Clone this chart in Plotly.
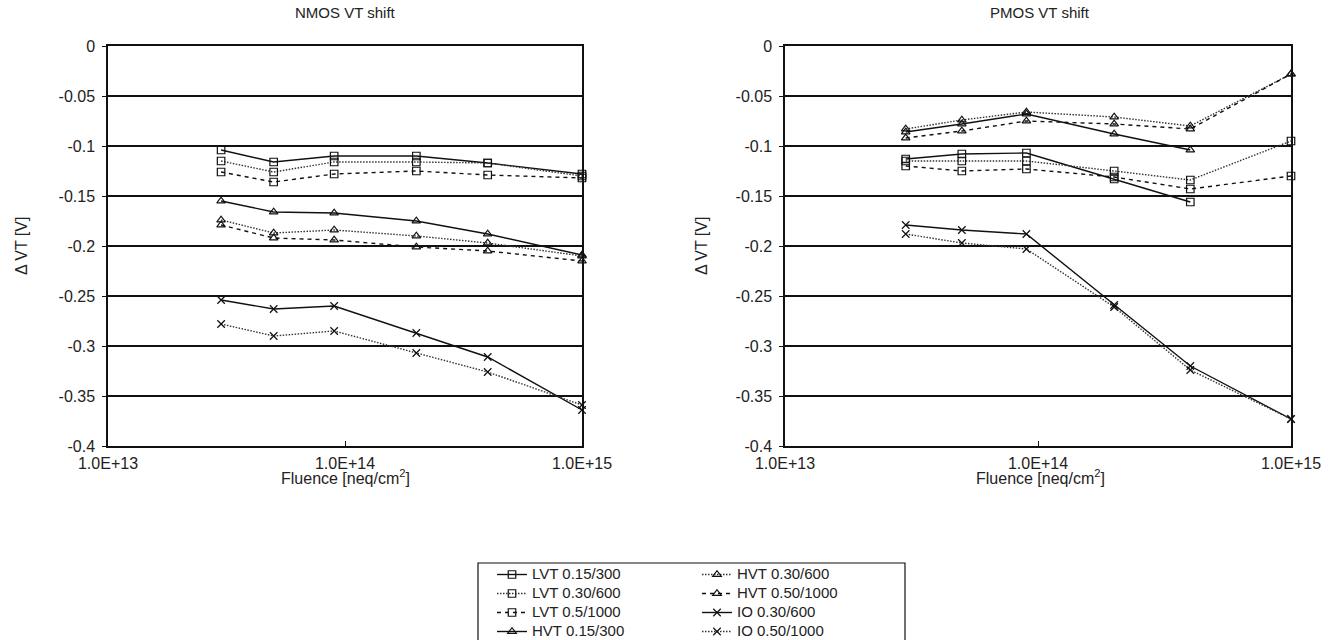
import plotly.graph_objects as go

# ---------------- data ----------------
fluence = [3e13, 5e13, 9e13, 2e14, 4e14, 1e15]

series_names = ["LVT 0.15/300", "LVT 0.30/600", "LVT 0.5/1000", "HVT 0.15/300",
                "HVT 0.30/600", "HVT 0.50/1000", "IO 0.30/600", "IO 0.50/1000"]

nmos_lvt_015_300 = [-0.104, -0.116, -0.110, -0.110, -0.117, -0.128]
nmos_lvt_030_600 = [-0.115, -0.126, -0.116, -0.116, -0.117, -0.130]
nmos_lvt_05_1000 = [-0.126, -0.136, -0.128, -0.125, -0.129, -0.132]
nmos_hvt_015_300 = [-0.155, -0.166, -0.167, -0.175, -0.188, -0.209]
nmos_hvt_030_600 = [-0.174, -0.187, -0.184, -0.190, -0.197, -0.210]
nmos_hvt_050_1000 = [-0.179, -0.192, -0.194, -0.201, -0.205, -0.215]
nmos_io_030_600 = [-0.254, -0.263, -0.260, -0.287, -0.311, -0.364]
nmos_io_050_1000 = [-0.278, -0.290, -0.285, -0.307, -0.326, -0.359]

pmos_lvt_015_300 = [-0.113, -0.108, -0.107, -0.133, -0.156, None]
pmos_lvt_030_600 = [-0.115, -0.115, -0.115, -0.125, -0.134, -0.095]
pmos_lvt_05_1000 = [-0.120, -0.125, -0.123, -0.131, -0.143, -0.130]
pmos_hvt_015_300 = [-0.086, -0.078, -0.068, -0.088, -0.104, None]
pmos_hvt_030_600 = [-0.083, -0.074, -0.066, -0.071, -0.080, -0.028]
pmos_hvt_050_1000 = [-0.092, -0.085, -0.075, -0.078, -0.083, -0.028]
pmos_io_030_600 = [-0.179, -0.184, -0.188, -0.259, -0.320, -0.373]
pmos_io_050_1000 = [-0.188, -0.197, -0.203, -0.261, -0.324, -0.373]

nmos_series = [nmos_lvt_015_300, nmos_lvt_030_600, nmos_lvt_05_1000, nmos_hvt_015_300,
               nmos_hvt_030_600, nmos_hvt_050_1000, nmos_io_030_600, nmos_io_050_1000]
pmos_series = [pmos_lvt_015_300, pmos_lvt_030_600, pmos_lvt_05_1000, pmos_hvt_015_300,
               pmos_hvt_030_600, pmos_hvt_050_1000, pmos_io_030_600, pmos_io_050_1000]

x_tick_vals = [1e13, 1e14, 1e15]
x_tick_text = ["1.0E+13", "1.0E+14", "1.0E+15"]
y_tick_vals = [0, -0.05, -0.1, -0.15, -0.2, -0.25, -0.3, -0.35, -0.4]
y_tick_text = ["0", "-0.05", "-0.1", "-0.15", "-0.2", "-0.25", "-0.3", "-0.35", "-0.4"]

panel_titles = ["NMOS VT shift", "PMOS VT shift"]
x_title = "Fluence [neq/cm<sup>2</sup>]"
y_title = "\u0394 VT [V]"

# ---------------- styles ----------------
SOLID = "solid"
DOT = "1.5px,1.5px"
DASH = "4px,4px"
dashes = [SOLID, DOT, DASH, SOLID, DOT, DASH, SOLID, DOT]
symbols = ["square-open"] * 3 + ["triangle-up-open"] * 3 + ["x-thin-open"] * 2
line_colors = ["#111", "#333", "#111", "#111", "#333", "#111", "#111", "#333"]

W, H = 1343, 640
def fx(p):
    return p / W
def fy(p):
    return 1 - p / H

FONT = "Liberation Sans, Arial, sans-serif"
TXT = "#222"
LEGEND_TEXT_SIZE = 15

fig = go.Figure()

for panel, (series_list, xa, ya) in enumerate([(nmos_series, "x", "y"), (pmos_series, "x2", "y2")]):
    for i, vals in enumerate(series_list):
        fig.add_trace(go.Scatter(
            x=fluence, y=vals, xaxis=xa, yaxis=ya,
            mode="lines+markers",
            name=f"<span style='font-size:{LEGEND_TEXT_SIZE}px'>{series_names[i]}</span>",
            hovertemplate=f"{series_names[i]}<br>%{{x:.1e}}, %{{y}}<extra></extra>",
            line=dict(color=line_colors[i], width=1.4, dash=dashes[i]),
            marker=dict(symbol=symbols[i], size=7.5, color="#111",
                        line=dict(color="#111", width=1.2)),
            cliponaxis=False,
            showlegend=(panel == 0),
            legend="legend" if i < 4 else "legend2",
        ))

axis_common = dict(
    showline=True, linecolor="#111", linewidth=1.5, mirror=True,
    zeroline=False,
)
xaxis_common = dict(
    axis_common, type="log", range=[13, 15], tickvals=x_tick_vals, ticktext=x_tick_text,
    showgrid=False, ticks="inside", ticklen=5, tickcolor="#111",
    ticklabelstandoff=2,
    tickfont=dict(family=FONT, size=16, color=TXT),
)
yaxis_common = dict(
    axis_common, range=[-0.4, 0], tickvals=y_tick_vals, ticktext=y_tick_text,
    showgrid=True, gridcolor="#111", gridwidth=1.6,
    ticks="outside", ticklen=4, tickcolor="#111",
    ticklabelstandoff=4,
    tickfont=dict(family=FONT, size=16, color=TXT),
)

legend_common = dict(xanchor="left", yanchor="top", bgcolor="rgba(0,0,0,0)",
                     borderwidth=0, tracegroupgap=0,
                     font=dict(family=FONT, size=12, color=TXT))

fig.update_layout(
    width=W, height=H,
    margin=dict(l=0, r=0, t=0, b=0, autoexpand=False),
    paper_bgcolor="white", plot_bgcolor="white",
    font=dict(family=FONT, size=15, color=TXT),
    xaxis=dict(xaxis_common, domain=[fx(108), fx(582)], anchor="y"),
    yaxis=dict(yaxis_common, domain=[fy(446), fy(46)], anchor="x"),
    xaxis2=dict(xaxis_common, domain=[fx(785), fx(1291)], anchor="y2"),
    yaxis2=dict(yaxis_common, domain=[fy(446), fy(46)], anchor="x2"),
    legend=dict(legend_common, x=fx(492), y=fy(560)),
    legend2=dict(legend_common, x=fx(697), y=fy(560)),
    shapes=[dict(type="rect", xref="paper", yref="paper",
                 x0=fx(478), x1=fx(905), y0=fy(660), y1=fy(563),
                 line=dict(color="#111", width=1.2))],
)

annotations = []
for cx, t in zip([345, 1040], panel_titles):
    annotations.append(dict(text=t, x=fx(cx), y=fy(12), xref="paper", yref="paper",
                            showarrow=False, xanchor="center", yanchor="middle",
                            font=dict(family=FONT, size=15, color=TXT)))
    annotations.append(dict(text=x_title, x=fx(cx), y=fy(477), xref="paper", yref="paper",
                            showarrow=False, xanchor="center", yanchor="middle",
                            font=dict(family=FONT, size=16, color=TXT)))
for cx in [21, 701]:
    annotations.append(dict(text=y_title, x=fx(cx), y=fy(246), xref="paper", yref="paper",
                            showarrow=False, xanchor="center", yanchor="middle", textangle=-90,
                            font=dict(family=FONT, size=16, color=TXT)))
fig.update_layout(annotations=annotations)

# remove the default 8px page margin so the figure starts at the window corner
fig.write_html("out.html", config={"displayModeBar": False},
               post_script="document.body.style.margin='0';")
